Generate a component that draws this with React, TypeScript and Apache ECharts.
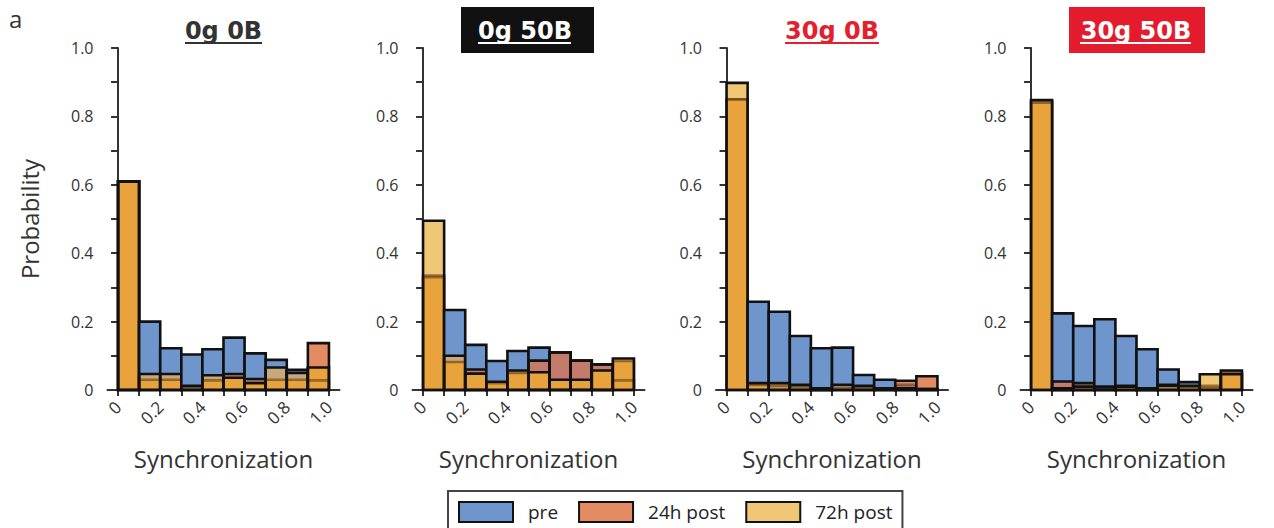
import React, { useEffect, useRef } from "react";
import * as echarts from "echarts";

// ---------- data ----------
const binStarts = [0, 0.1, 0.2, 0.3, 0.4, 0.5, 0.6, 0.7, 0.8, 0.9];
const panelTitles = ["0g 0B", "0g 50B", "30g 0B", "30g 50B"];
const seriesNames = ["pre", "24h post", "72h post"];
const yTickValues = [0, 0.2, 0.4, 0.6, 0.8, 1.0];
const xTickValues = [0, 0.1, 0.2, 0.3, 0.4, 0.5, 0.6, 0.7, 0.8, 0.9, 1.0];
const xLabelValues = [0, 0.2, 0.4, 0.6, 0.8, 1.0];

// 0g 0B
const pre0g0B = [0.61, 0.2, 0.122, 0.104, 0.119, 0.153, 0.107, 0.088, 0.059, 0.028];
const h24_0g0B = [0.61, 0.03, 0.03, 0.005, 0.028, 0.047, 0.032, 0.03, 0.03, 0.137];
const h72_0g0B = [0.61, 0.047, 0.047, 0.012, 0.043, 0.036, 0.02, 0.066, 0.05, 0.066];
// 0g 50B
const pre0g50B = [0.33, 0.234, 0.132, 0.085, 0.114, 0.124, 0.11, 0.086, 0.075, 0.028];
const h24_0g50B = [0.335, 0.082, 0.06, 0.02, 0.05, 0.086, 0.11, 0.086, 0.075, 0.085];
const h72_0g50B = [0.495, 0.1, 0.048, 0.024, 0.057, 0.052, 0.03, 0.03, 0.057, 0.092];
// 30g 0B
const pre30g0B = [0.85, 0.258, 0.229, 0.158, 0.122, 0.124, 0.044, 0.03, 0.015, 0.003];
const h24_30g0B = [0.85, 0.015, 0.012, 0.008, 0.005, 0.005, 0.005, 0.003, 0.027, 0.04];
const h72_30g0B = [0.898, 0.02, 0.02, 0.015, 0.005, 0.015, 0.012, 0.005, 0.005, 0.003];
// 30g 50B
const pre30g50B = [0.845, 0.224, 0.187, 0.207, 0.158, 0.119, 0.06, 0.023, 0.005, 0.052];
const h24_30g50B = [0.84, 0.025, 0.02, 0.01, 0.012, 0.005, 0.015, 0.01, 0.012, 0.057];
const h72_30g50B = [0.848, 0.005, 0.01, 0.008, 0.01, 0.005, 0.012, 0.012, 0.046, 0.046];

const panelPre = [pre0g0B, pre0g50B, pre30g0B, pre30g50B];
const panel24 = [h24_0g0B, h24_0g50B, h24_30g0B, h24_30g50B];
const panel72 = [h72_0g0B, h72_0g50B, h72_30g0B, h72_30g50B];

// ---------- styles ----------
const BIN_W = 0.1;
const C_PRE = "#6e96cc";
const C_24 = "#e38b63";
const C_72 = "#f0c875";
const C_ALL = "#e8a33c";
const C_PRE_24 = "#c57b6b";
const C_PRE_72 = "#c8a97c";
const AXIS = "#333333";
const FONT = "'Open Sans', 'Noto Sans', sans-serif";
const gridLefts = [107.5, 412.5, 716, 1020.5];
const GRID_W = 232;
const GRID_TOP = 48;
const GRID_H = 342;

function colorFor(cov: boolean[]) {
  const [p, a, b] = cov;
  if (a && b) return C_ALL;
  if (p && a) return C_PRE_24;
  if (p && b) return C_PRE_72;
  if (p) return C_PRE;
  if (a) return C_24;
  if (b) return C_72;
  return "none";
}

function renderHist(params: any, api: any) {
  const start = api.value(0);
  const vals = [api.value(1), api.value(2), api.value(3)];
  const base = api.coord([start, 0]);
  const xL = base[0];
  const yBase = base[1];
  const xR = api.coord([start + BIN_W, 0])[0];
  const w = xR - xL;
  const levels = Array.from(new Set([0, ...vals])).sort((a, b) => a - b);
  const children: any[] = [];
  for (let k = 0; k < levels.length - 1; k++) {
    const lo = levels[k];
    const hi = levels[k + 1];
    const cov = vals.map((v) => v >= hi - 1e-9);
    const yHi = api.coord([start, hi])[1];
    const yLo = api.coord([start, lo])[1];
    children.push({
      type: "rect",
      shape: { x: xL, y: yHi, width: w, height: yLo - yHi },
      style: { fill: colorFor(cov) },
    });
  }
  const covered = vals.map((v, i) => vals.some((u, j) => j > i && u > v + 1e-9));
  const order = [0, 1, 2].sort((a, b) => Number(covered[b]) - Number(covered[a]));
  order.forEach((i) => {
    if (vals[i] <= 0) return;
    const yTop = api.coord([start, vals[i]])[1];
    children.push({
      type: "rect",
      shape: { x: xL, y: yTop, width: w, height: yBase - yTop },
      style: {
        fill: "none",
        stroke: covered[i] ? "rgba(95,55,15,0.6)" : "#111111",
        lineWidth: 2.6,
      },
    });
  });
  return { type: "group", children };
}

function fmt(v: number) {
  const r = Math.round(v * 10);
  return r === 0 ? "0" : (r / 10).toFixed(1);
}

export default function App() {
  const ref = useRef<HTMLDivElement>(null);
  useEffect(() => {
    document.body.style.margin = "0";
    document.body.style.overflow = "hidden";
    const chart = echarts.init(ref.current!, null, { renderer: "svg" });

    const grids = gridLefts.map((left) => ({
      left,
      top: GRID_TOP,
      width: GRID_W,
      height: GRID_H,
      containLabel: false,
    }));

    const xAxes = gridLefts.map((_, i) => ({
      type: "value",
      gridIndex: i,
      min: -0.05,
      max: 1.05,
      name: "Synchronization",
      nameLocation: "middle",
      nameGap: 56,
      nameTextStyle: { fontFamily: FONT, fontSize: 24, color: AXIS },
      axisLine: { show: true, lineStyle: { color: AXIS, width: 2 } },
      axisTick: {
        show: true,
        length: 6,
        customValues: xTickValues,
        lineStyle: { color: AXIS, width: 2 },
      },
      axisLabel: {
        customValues: xLabelValues,
        rotate: 45,
        margin: 14,
        fontFamily: FONT,
        fontSize: 17,
        color: AXIS,
        formatter: (v: number) => fmt(v),
      },
      splitLine: { show: false },
    }));

    const yAxes = gridLefts.map((_, i) => ({
      type: "value",
      gridIndex: i,
      min: 0,
      max: 1,
      interval: 0.1,
      name: i === 0 ? "Probability" : "",
      nameLocation: "middle",
      nameGap: 66,
      nameRotate: 90,
      nameTextStyle: { fontFamily: FONT, fontSize: 24, color: AXIS },
      axisLine: { show: true, lineStyle: { color: AXIS, width: 2 } },
      axisTick: { show: true, length: 7, lineStyle: { color: AXIS, width: 2 } },
      axisLabel: {
        margin: 14,
        fontFamily: FONT,
        fontSize: 16,
        color: AXIS,
        formatter: (v: number) => {
          const r = Math.round(v * 10);
          return yTickValues.some((t) => Math.round(t * 10) === r) ? fmt(v) : "";
        },
      },
      splitLine: { show: false },
    }));

    const histSeries = gridLefts.map((_, i) => ({
      type: "custom",
      name: panelTitles[i],
      xAxisIndex: i,
      yAxisIndex: i,
      renderItem: renderHist,
      encode: { x: 0, y: [1, 2, 3] },
      data: binStarts.map((b, k) => [b, panelPre[i][k], panel24[i][k], panel72[i][k]]),
      silent: true,
    }));

    const legendColors = [C_PRE, C_24, C_72];
    const legendSeries = seriesNames.map((n, k) => ({
      type: "bar",
      name: n,
      xAxisIndex: 0,
      yAxisIndex: 0,
      data: [],
      itemStyle: { color: legendColors[k], borderColor: "#111111", borderWidth: 2 },
    }));

    const titleCenters = [223.5, 525, 832, 1136];
    const titleFill = ["#333333", "#ffffff", "#e3202e", "#ffffff"];
    const underline = [
      [185, 262],
      [478, 571],
      [785, 879],
      [1080, 1191],
    ];
    const graphics: any[] = [
      { type: "rect", shape: { x: 461, y: 7, width: 133, height: 46 }, style: { fill: "#111111" } },
      { type: "rect", shape: { x: 1069, y: 7, width: 136, height: 46 }, style: { fill: "#e31b2d" } },
      {
        type: "text",
        x: 9,
        y: 18,
        style: { text: "a", fontFamily: FONT, fontSize: 24, fill: AXIS, textVerticalAlign: "middle" },
      },
    ];
    panelTitles.forEach((t, i) => {
      graphics.push({
        type: "text",
        x: titleCenters[i],
        y: 31,
        style: {
          text: t,
          fontFamily: "'DejaVu Sans', sans-serif",
          fontWeight: "bold",
          fontSize: 24,
          fill: titleFill[i],
          textAlign: "center",
          textVerticalAlign: "middle",
        },
      });
      graphics.push({
        type: "line",
        shape: { x1: underline[i][0], y1: 43, x2: underline[i][1], y2: 43 },
        style: { stroke: titleFill[i], lineWidth: 2 },
      });
    });

    chart.setOption({
      animation: false,
      backgroundColor: "#ffffff",
      grid: grids,
      xAxis: xAxes,
      yAxis: yAxes,
      legend: {
        data: seriesNames,
        left: 448,
        top: 491,
        orient: "horizontal",
        padding: [10, 10, 10, 10],
        borderColor: "#444444",
        borderWidth: 2,
        itemWidth: 54,
        itemHeight: 20,
        itemGap: 20,
        icon: "rect",
        selectedMode: false,
        textStyle: { fontFamily: FONT, fontSize: 19, color: "#222222", padding: [0, 0, 0, 10] },
      },
      graphic: graphics,
      series: [...histSeries, ...legendSeries],
    });
    return () => chart.dispose();
  }, []);
  return <div ref={ref} style={{ width: 1274, height: 528 }} />;
}
